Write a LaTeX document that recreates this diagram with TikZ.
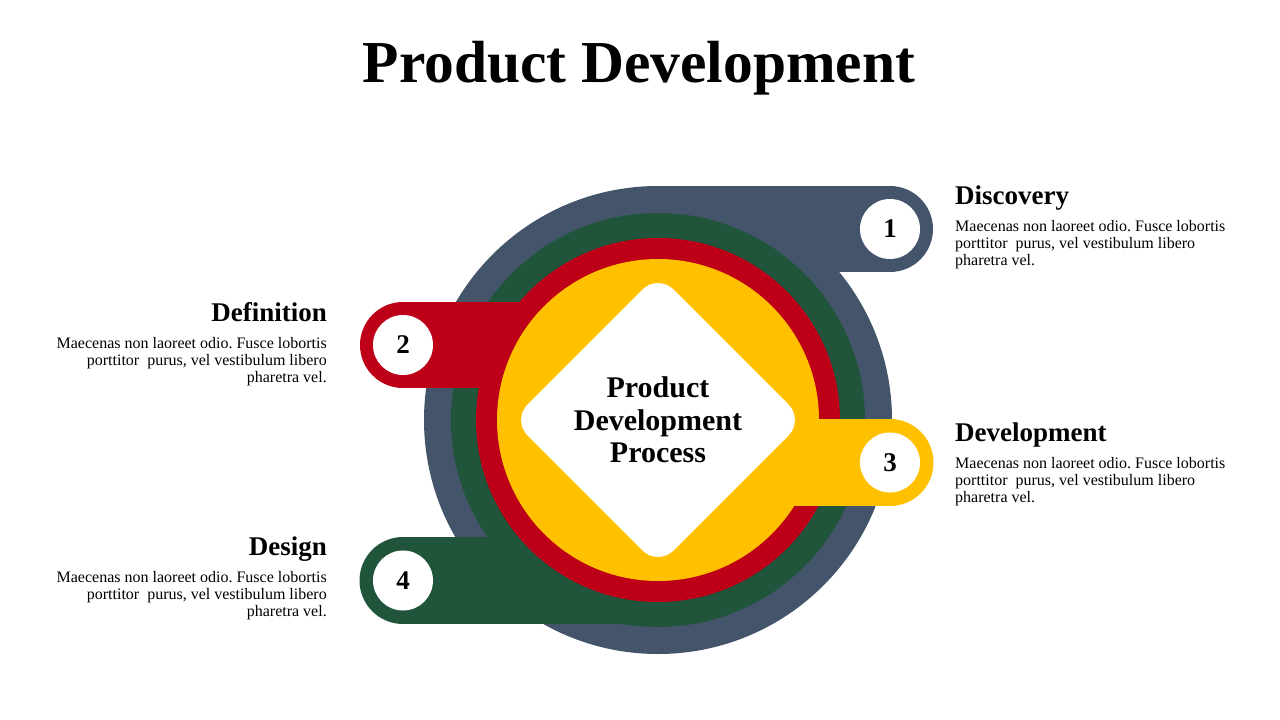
\documentclass[tikz,border=0pt]{standalone}
\usepackage{fontspec}
\setmainfont{Liberation Serif}
\usepackage{tikz}
\usetikzlibrary{positioning}
\frenchspacing

\definecolor{slate}{HTML}{44546A}
\definecolor{forest}{HTML}{20553C}
\definecolor{crimson}{HTML}{BD0017}
\definecolor{amber}{HTML}{FFC000}

\newcommand{\blurb}{Maecenas non laoreet odio. Fusce lobortis\\porttitor~ purus, vel vestibulum libero\\pharetra vel.}

\tikzset{
  numdot/.style={circle, fill=white, minimum size=60pt, inner sep=0pt, font=\fontsize{27}{30}\selectfont\bfseries},
  headtxt/.style={inner sep=0pt, font=\fontsize{27}{30}\selectfont\bfseries},
  bodytxt/.style={inner sep=0pt, font=\fontsize{16}{17}\selectfont},
}

\begin{document}
\begin{tikzpicture}[x=1pt,y=-1pt]
\useasboundingbox (0,0) rectangle (1280,720);

% Title
\node[anchor=base, font=\fontsize{59.5}{64}\selectfont\bfseries] (title) at (639,82) {Product Development};

% Outer ring and tab 1
\fill[slate] (658,420) circle (234pt);
\fill[slate] (658,186) rectangle (890,272);
\fill[slate] (890,229) circle (43pt);

% Second ring and tab 4
\fill[forest] (658,420) circle (207pt);
\fill[forest] (403,537) rectangle (658,624);
\fill[forest] (403,580.5) circle (43.5pt);

% Third ring and tab 2
\fill[crimson] (658,420) circle (182pt);
\fill[crimson] (403,302) rectangle (600,388);
\fill[crimson] (403,345) circle (43pt);

% Inner disc and tab 3
\fill[amber] (658,420) circle (161pt);
\fill[amber] (720,419) rectangle (890,506);
\fill[amber] (890,462.5) circle (43.5pt);

% Center diamond
\fill[white, rounded corners=22pt] (658,274) -- (804,420) -- (658,566) -- (512,420) -- cycle;
\node[align=center, font=\fontsize{30}{32.5}\selectfont\bfseries] (core) at (658,420) {Product\\Development\\Process};

% Numbered dots
\foreach \n/\x/\y in {1/890/229, 2/403/345, 3/890/462.5, 4/403/580.5}
  \node[numdot] (num-\n) at (\x,\y) {\n};

% Right-hand texts
\foreach \n/\name/\y in {1/Discovery/204, 3/Development/441} {
  \node[headtxt, anchor=base west] (head-\n) at (955,\y) {\name};
  \node[bodytxt, anchor=north west, align=left] (body-\n) at (955,\y+16) {\blurb};
}

% Left-hand texts
\foreach \n/\name/\y in {2/Definition/321, 4/Design/555} {
  \node[headtxt, anchor=base east] (head-\n) at (327,\y) {\name};
  \node[bodytxt, anchor=north east, align=right] (body-\n) at (327,\y+16) {\blurb};
}
\end{tikzpicture}
\end{document}
